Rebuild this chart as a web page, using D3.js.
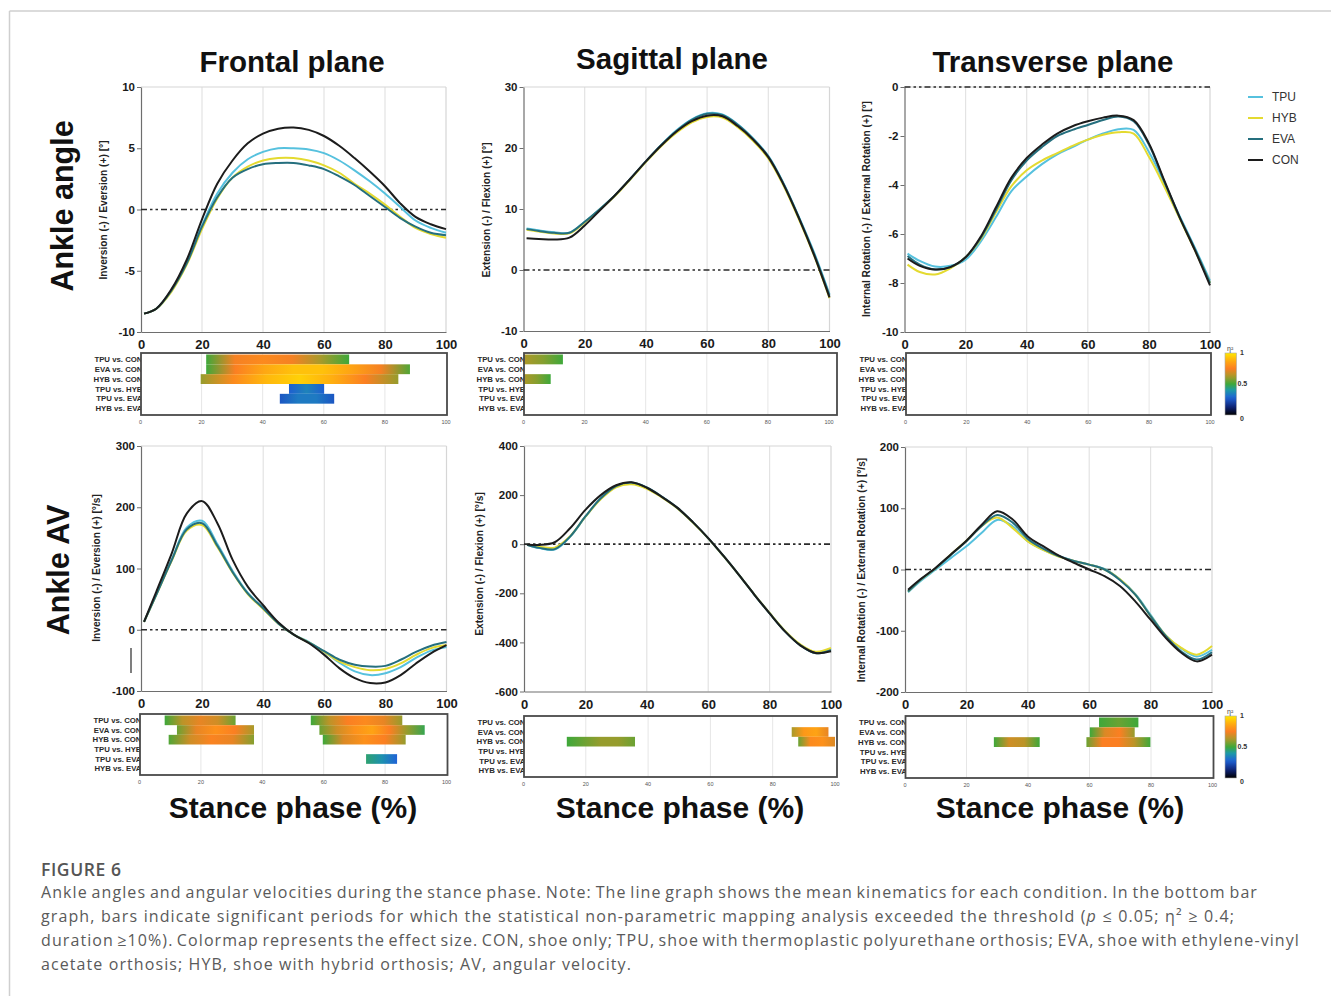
<!DOCTYPE html>
<html>
<head>
<meta charset="utf-8">
<script src="https://cdn.jsdelivr.net/npm/d3@7"></script>
<style>
  body { margin: 0; background: #fff; }
  svg { display: block; font-family: "Liberation Sans", Arial, sans-serif; }
</style>
</head>
<body>
<svg id="fig" width="1331" height="996"></svg>
<script>
"use strict";

// ---- data ----
const stance = [1, 5, 10, 15, 20, 25, 30, 35, 40, 45, 50, 55, 60, 65, 70, 75, 80, 85, 90, 95, 100];
const stanceTicks = [0, 20, 40, 60, 80, 100];
const conditions = ["TPU", "HYB", "EVA", "CON"];
const conditionColors = ["#56c1de", "#e4da30", "#256f7e", "#1c1c1c"];
const comparisons = ["TPU vs. CON", "EVA vs. CON", "HYB vs. CON", "TPU vs. HYB", "TPU vs. EVA", "HYB vs. EVA"];

// frontal plane angle [°]
const frontalAngleTPU = [-8.5, -8.1, -6.6, -4.3, -1.3, 1.3, 3.0, 4.1, 4.7, 5.0, 5.0, 4.9, 4.6, 4.0, 3.2, 2.3, 1.3, 0.2, -0.9, -1.5, -1.9];
const frontalAngleHYB = [-8.5, -8.1, -6.7, -4.5, -1.6, 0.9, 2.6, 3.5, 4.0, 4.2, 4.2, 4.0, 3.6, 3.0, 2.1, 1.3, 0.4, -0.6, -1.5, -2.0, -2.3];
const frontalAngleEVA = [-8.5, -8.1, -6.6, -4.4, -1.4, 1.0, 2.6, 3.3, 3.7, 3.8, 3.8, 3.6, 3.3, 2.7, 2.0, 1.1, 0.2, -0.7, -1.4, -1.9, -2.1];
const frontalAngleCON = [-8.5, -8.1, -6.5, -4.1, -0.8, 2.1, 4.0, 5.4, 6.2, 6.6, 6.7, 6.5, 6.0, 5.2, 4.2, 3.1, 1.9, 0.5, -0.6, -1.2, -1.6];

// sagittal plane angle [°]
const sagittalAngleTPU = [6.8, 6.5, 6.2, 6.1, 7.9, 10.0, 12.3, 15.0, 17.8, 20.5, 22.9, 24.7, 25.7, 25.5, 23.9, 21.6, 18.7, 14.2, 8.7, 2.8, -4.0];
const sagittalAngleHYB = [6.6, 6.3, 6.0, 6.0, 7.8, 9.9, 12.2, 14.9, 17.7, 20.3, 22.5, 24.2, 25.1, 25.0, 23.4, 21.2, 18.3, 13.8, 8.3, 2.3, -4.6];
const sagittalAngleEVA = [6.7, 6.4, 6.1, 6.1, 7.9, 10.0, 12.3, 15.0, 17.8, 20.5, 22.8, 24.6, 25.6, 25.4, 23.8, 21.5, 18.6, 14.1, 8.6, 2.6, -4.2];
const sagittalAngleCON = [5.2, 5.1, 5.0, 5.3, 7.3, 9.8, 12.3, 15.0, 17.8, 20.4, 22.7, 24.4, 25.3, 25.2, 23.6, 21.4, 18.5, 14.0, 8.5, 2.4, -4.5];

// transverse plane angle [°]
const transverseAngleTPU = [-6.8, -7.1, -7.33, -7.3, -7.05, -6.3, -5.3, -4.25, -3.65, -3.15, -2.75, -2.45, -2.15, -1.9, -1.72, -1.75, -2.65, -3.9, -5.25, -6.55, -7.9];
const transverseAngleHYB = [-7.25, -7.55, -7.65, -7.4, -6.95, -6.2, -5.1, -4.05, -3.4, -3.0, -2.7, -2.4, -2.15, -1.95, -1.85, -1.9, -2.85, -4.05, -5.35, -6.65, -8.0];
const transverseAngleEVA = [-6.9, -7.25, -7.45, -7.35, -6.95, -6.15, -5.0, -3.8, -3.0, -2.45, -2.0, -1.75, -1.55, -1.35, -1.2, -1.4, -2.35, -3.85, -5.3, -6.6, -8.0];
const transverseAngleCON = [-7.0, -7.3, -7.45, -7.35, -6.95, -6.1, -4.9, -3.7, -2.9, -2.35, -1.9, -1.6, -1.4, -1.25, -1.17, -1.35, -2.3, -3.8, -5.3, -6.65, -8.1];

// frontal plane angular velocity [°/s]
const frontalAvTPU = [13, 58, 114, 167, 178, 140, 96, 60, 35, 11, -8, -20, -36, -54, -68, -74, -71, -61, -46, -34, -28];
const frontalAvHYB = [13, 57, 112, 162, 171, 135, 93, 58, 34, 10, -8, -21, -36, -52, -61, -66, -64, -55, -41, -30, -25];
const frontalAvEVA = [13, 57, 113, 164, 174, 137, 94, 59, 35, 10, -8, -21, -35, -49, -57, -60, -59, -49, -36, -26, -20];
const frontalAvCON = [13, 62, 124, 190, 210, 174, 114, 70, 40, 12, -8, -22, -41, -63, -79, -87, -86, -74, -55, -38, -25];

// sagittal plane angular velocity [°/s]
const sagittalAvTPU = [-2, -16, -22, 30, 112, 186, 236, 250, 230, 192, 147, 89, 24, -49, -125, -205, -281, -354, -410, -442, -425];
const sagittalAvHYB = [-2, -10, -14, 32, 112, 183, 232, 244, 226, 190, 146, 88, 24, -49, -125, -204, -280, -352, -408, -438, -423];
const sagittalAvEVA = [-2, -15, -20, 31, 113, 187, 237, 251, 231, 193, 148, 90, 25, -48, -125, -205, -282, -355, -412, -444, -432];
const sagittalAvCON = [-1, -3, 8, 65, 140, 200, 240, 252, 230, 192, 148, 90, 25, -48, -125, -205, -282, -355, -412, -443, -436];

// transverse plane angular velocity [°/s]
const transverseAvTPU = [-37, -19, 0, 19, 38, 60, 81, 71, 46, 32, 22, 14, 8, 1, -16, -40, -74, -108, -129, -142, -131];
const transverseAvHYB = [-36, -17, 2, 25, 47, 71, 85, 68, 46, 32, 21, 14, 8, 0, -16, -41, -76, -108, -128, -139, -125];
const transverseAvEVA = [-36, -17, 2, 24, 46, 71, 89, 77, 50, 34, 22, 14, 8, 0, -17, -41, -76, -109, -134, -147, -135];
const transverseAvCON = [-33, -16, 3, 25, 47, 73, 95, 82, 54, 38, 23, 11, 0, -11, -27, -52, -82, -112, -136, -150, -139];

// SPM significant periods: comparison row, start/end (% stance), effect size η² along the bar
const frontalAngleSpm = [
  { row: 0, from: 21.5, to: 68.3, eta: [0.5, 0.74, 0.78, 0.74, 0.62, 0.5] },
  { row: 1, from: 21.5, to: 88.2, eta: [0.5, 0.75, 0.86, 0.92, 0.92, 0.85, 0.74, 0.52] },
  { row: 2, from: 19.7, to: 84.4, eta: [0.6, 0.78, 0.9, 0.95, 0.88, 0.75, 0.6] },
  { row: 3, from: 48.6, to: 60.1, eta: [0.27, 0.35, 0.27] },
  { row: 4, from: 45.6, to: 63.4, eta: [0.25, 0.33, 0.33, 0.25] },
];
const sagittalAngleSpm = [
  { row: 0, from: 0, to: 12.9, eta: [0.63, 0.58, 0.5] },
  { row: 2, from: 0, to: 8.9, eta: [0.63, 0.58, 0.5] },
];
const transverseAngleSpm = [];
const frontalAvSpm = [
  { row: 0, from: 8.2, to: 31.3, eta: [0.5, 0.65, 0.72, 0.68, 0.55] },
  { row: 0, from: 55.8, to: 85.6, eta: [0.5, 0.65, 0.75, 0.78, 0.72, 0.6] },
  { row: 1, from: 12.2, to: 37.3, eta: [0.55, 0.72, 0.8, 0.75, 0.62] },
  { row: 1, from: 58.6, to: 92.9, eta: [0.55, 0.68, 0.8, 0.85, 0.75, 0.6, 0.48] },
  { row: 2, from: 9.5, to: 37.3, eta: [0.52, 0.68, 0.76, 0.72, 0.58] },
  { row: 2, from: 59.7, to: 86.7, eta: [0.5, 0.7, 0.8, 0.75, 0.6] },
  { row: 4, from: 73.8, to: 83.9, eta: [0.45, 0.38, 0.28] },
];
const sagittalAvSpm = [
  { row: 1, from: 86.1, to: 97.9, eta: [0.62, 0.82, 0.85, 0.72] },
  { row: 2, from: 13.9, to: 35.8, eta: [0.5, 0.55, 0.6, 0.6, 0.55] },
  { row: 2, from: 88.2, to: 100, eta: [0.55, 0.78, 0.8, 0.7] },
];
const transverseAvSpm = [
  { row: 0, from: 63.1, to: 75.9, eta: [0.5, 0.55, 0.5] },
  { row: 1, from: 60.1, to: 74.7, eta: [0.5, 0.7, 0.75, 0.6] },
  { row: 2, from: 28.9, to: 43.8, eta: [0.5, 0.68, 0.65, 0.5] },
  { row: 2, from: 59, to: 79.8, eta: [0.55, 0.75, 0.75, 0.65, 0.5] },
];

const colorbarTicks = [0, 0.5, 1];

// ---- colormap (effect size) ----
const cmap = d3.scaleLinear()
  .domain([0, 0.12, 0.28, 0.4, 0.5, 0.62, 0.75, 0.88, 1])
  .range(["#000000", "#0c1f6e", "#1f63d6", "#1d9aa6", "#3ea83a", "#a89a2a", "#fb7f22", "#ffae10", "#ffe800"]);

const svg = d3.select("#fig");
const defs = svg.append("defs");
let gradCount = 0;

// page frame
svg.append("line").attr("x1", 9.5).attr("x2", 1331).attr("y1", 11).attr("y2", 11)
  .attr("stroke", "#cfcfcf").attr("stroke-width", 1.5);
svg.append("line").attr("x1", 9.5).attr("x2", 9.5).attr("y1", 11).attr("y2", 996)
  .attr("stroke", "#cfcfcf").attr("stroke-width", 1.5);

// ---- panels ----
const panels = [
  { series: [frontalAngleTPU, frontalAngleHYB, frontalAngleEVA, frontalAngleCON], spm: frontalAngleSpm,
    yDomain: [-10, 10], yTicks: [-10, -5, 0, 5, 10], yTitle: "Inversion (-) / Eversion (+) [°]",
    plotX: [141, 446], plotY: [87, 332], hmX: [140.5, 446], hmBox: 1, hmY: [353, 415], titleX: 107, titleY: 210 },
  { series: [sagittalAngleTPU, sagittalAngleHYB, sagittalAngleEVA, sagittalAngleCON], spm: sagittalAngleSpm,
    yDomain: [-10, 30], yTicks: [-10, 0, 10, 20, 30], yTitle: "Extension (-) / Flexion (+) [°]",
    plotX: [523.5, 829.5], plotY: [87, 331], hmX: [523.5, 829], hmBox: 8, hmY: [353, 415], titleX: 490, titleY: 210 },
  { series: [transverseAngleTPU, transverseAngleHYB, transverseAngleEVA, transverseAngleCON], spm: transverseAngleSpm,
    yDomain: [-10, 0], yTicks: [-10, -8, -6, -4, -2, 0], yTitle: "Internal Rotation (-) / External Rotation (+) [°]",
    plotX: [904.5, 1210], plotY: [87, 332], hmX: [905.5, 1210], hmBox: 1, hmY: [353, 415], titleX: 870, titleY: 209, colorbar: true },
  { series: [frontalAvTPU, frontalAvHYB, frontalAvEVA, frontalAvCON], spm: frontalAvSpm,
    yDomain: [-100, 300], yTicks: [-100, 0, 100, 200, 300], yTitle: "Inversion (-) / Eversion (+) [°/s]",
    plotX: [141, 446.5], plotY: [446, 691], hmX: [139.5, 446.5], hmBox: 1, hmY: [714, 775], titleX: 100, titleY: 568 },
  { series: [sagittalAvTPU, sagittalAvHYB, sagittalAvEVA, sagittalAvCON], spm: sagittalAvSpm,
    yDomain: [-600, 400], yTicks: [-600, -400, -200, 0, 200, 400], yTitle: "Extension (-) / Flexion (+) [°/s]",
    plotX: [524, 831], plotY: [446, 691.5], hmX: [523.5, 835], hmBox: 2, hmY: [716, 777], titleX: 483, titleY: 564 },
  { series: [transverseAvTPU, transverseAvHYB, transverseAvEVA, transverseAvCON], spm: transverseAvSpm,
    yDomain: [-200, 200], yTicks: [-200, -100, 0, 100, 200], yTitle: "Internal Rotation (-) / External Rotation (+) [°/s]",
    plotX: [905, 1212], plotY: [447, 692], hmX: [905, 1212.5], hmBox: 1, hmY: [716, 778], titleX: 865, titleY: 570, colorbar: true },
];

panels.forEach(drawPanel);

function drawPanel(p) {
  const g = svg.append("g");
  const x = d3.scaleLinear().domain([0, 100]).range(p.plotX);
  const y = d3.scaleLinear().domain(p.yDomain).range([p.plotY[1], p.plotY[0]]);

  // grid + light frame
  g.selectAll(".grid").data(stanceTicks.slice(1, -1)).join("line")
    .attr("x1", (d) => x(d)).attr("x2", (d) => x(d))
    .attr("y1", p.plotY[0]).attr("y2", p.plotY[1])
    .attr("stroke", "#e3e3e3").attr("stroke-width", 1.2);
  g.append("line").attr("x1", x(0)).attr("x2", x(100)).attr("y1", p.plotY[0]).attr("y2", p.plotY[0])
    .attr("stroke", "#d6d6d6").attr("stroke-width", 1.2);
  g.append("line").attr("x1", x(100)).attr("x2", x(100)).attr("y1", p.plotY[0]).attr("y2", p.plotY[1])
    .attr("stroke", "#d6d6d6").attr("stroke-width", 1.2);

  // axes (plain hyphen for negatives, as in the source figure)
  const fmt = (d) => String(d);
  const yAxisG = g.append("g").attr("transform", `translate(${p.plotX[0]},0)`)
    .call(d3.axisLeft(y).tickValues(p.yTicks).tickFormat(fmt).tickSize(4).tickSizeOuter(0).tickPadding(2));
  const xAxisG = g.append("g").attr("transform", `translate(0,${p.plotY[1]})`)
    .call(d3.axisBottom(x).tickValues(stanceTicks).tickFormat(fmt).tickSize(0).tickSizeOuter(0).tickPadding(8));
  [yAxisG, xAxisG].forEach((a) => {
    a.attr("font-family", null);
    a.select(".domain").attr("stroke", "#6e6e6e").attr("stroke-width", 1.2);
    a.selectAll(".tick line").attr("stroke", "#6e6e6e");
    a.selectAll("text").attr("fill", "#1a1a1a").attr("font-weight", "bold");
  });
  yAxisG.selectAll("text").attr("font-size", 11.5);
  xAxisG.selectAll("text").attr("font-size", 13);

  // zero reference
  g.append("line").attr("x1", x(0)).attr("x2", x(100)).attr("y1", y(0)).attr("y2", y(0))
    .attr("stroke", "#2a2a2a").attr("stroke-width", 1.7)
    .attr("stroke-dasharray", "6,3,2.5,3,2.5,3");

  // curves
  const line = d3.line()
    .x((d, i) => x(stance[i]))
    .y((d) => y(d))
    .curve(d3.curveCatmullRom.alpha(0.5));
  p.series.forEach((s, i) => {
    g.append("path").attr("d", line(s)).attr("fill", "none")
      .attr("stroke", conditionColors[i]).attr("stroke-width", 2);
  });

  // axis title
  g.append("text").attr("transform", `translate(${p.titleX},${p.titleY}) rotate(-90)`)
    .attr("text-anchor", "middle").attr("font-size", 10.2).attr("font-weight", "bold")
    .attr("fill", "#222").text(p.yTitle);

  drawHeatmap(p);
}

function drawHeatmap(p) {
  const g = svg.append("g");
  const hx = d3.scaleLinear().domain([0, 100]).range(p.hmX);
  const [top, bottom] = p.hmY;
  const band = d3.scaleBand().domain(d3.range(comparisons.length)).range([top + 1.5, bottom - 1.5]);
  const boxLeft = hx(0) + 0.5;
  const boxRight = hx(100) + p.hmBox;

  // row labels (partly hidden by the box edge)
  g.selectAll(".rowlab").data(comparisons).join("text")
    .attr("x", boxLeft + 1.5).attr("y", (d, i) => band(i) + band.bandwidth() / 2)
    .attr("dy", "0.35em").attr("text-anchor", "end")
    .attr("font-size", 7.8).attr("font-weight", "bold").attr("fill", "#2a2a2a")
    .text((d) => d);

  g.append("rect").attr("x", boxLeft).attr("y", top).attr("width", boxRight - boxLeft)
    .attr("height", bottom - top).attr("fill", "#fff");

  g.selectAll(".hgrid").data(stanceTicks.slice(1, -1)).join("line")
    .attr("x1", (d) => hx(d)).attr("x2", (d) => hx(d)).attr("y1", top).attr("y2", bottom)
    .attr("stroke", "#e6e6e6").attr("stroke-width", 1);

  p.spm.forEach((b) => {
    const id = `spm${gradCount++}`;
    const grad = defs.append("linearGradient").attr("id", id)
      .attr("x1", 0).attr("x2", 1).attr("y1", 0).attr("y2", 0);
    b.eta.forEach((e, i) => {
      grad.append("stop").attr("offset", i / (b.eta.length - 1)).attr("stop-color", cmap(e));
    });
    g.append("rect").attr("x", hx(b.from)).attr("y", band(b.row))
      .attr("width", hx(b.to) - hx(b.from)).attr("height", band.bandwidth())
      .attr("fill", `url(#${id})`);
  });

  g.append("rect").attr("x", boxLeft).attr("y", top).attr("width", boxRight - boxLeft)
    .attr("height", bottom - top).attr("fill", "none")
    .attr("stroke", "#4a4a4a").attr("stroke-width", 1.8);

  g.selectAll(".htick").data(stanceTicks).join("text")
    .attr("x", (d) => hx(d)).attr("y", bottom + 9)
    .attr("text-anchor", "middle").attr("font-size", 5.5).attr("fill", "#555")
    .text((d) => d);

  if (p.colorbar) {
    const id = `cbar${gradCount++}`;
    const grad = defs.append("linearGradient").attr("id", id)
      .attr("x1", 0).attr("x2", 0).attr("y1", 1).attr("y2", 0);
    d3.range(0, 1.0001, 0.05).forEach((t) => {
      grad.append("stop").attr("offset", t).attr("stop-color", cmap(t));
    });
    const cy = d3.scaleLinear().domain([0, 1]).range([bottom, top]);
    g.append("rect").attr("x", 1225).attr("y", top).attr("width", 11.5).attr("height", bottom - top)
      .attr("fill", `url(#${id})`).attr("stroke", "#aaa").attr("stroke-width", 0.6);
    g.selectAll(".cbt").data(colorbarTicks).join("text")
      .attr("x", (d) => (d === 0.5 ? 1237.5 : 1240)).attr("y", (d) => cy(d))
      .attr("dy", (d) => (d === 0 ? "0.9em" : d === 1 ? "0.3em" : "0.35em"))
      .attr("font-size", 7).attr("font-weight", "bold").attr("fill", "#333")
      .text((d) => d);
    g.append("text").attr("x", 1227).attr("y", top - 2).attr("font-size", 7)
      .attr("fill", "#444").text("η²");
  }
}

// stray mark in the lower-left panel
svg.append("line").attr("x1", 131).attr("x2", 131).attr("y1", 648).attr("y2", 673)
  .attr("stroke", "#3a3a3a").attr("stroke-width", 1.3);

// ---- headings ----
const colTitles = ["Frontal plane", "Sagittal plane", "Transverse plane"];
const colTitleX = [292, 672, 1053];
const colTitleY = [72, 69, 72];
svg.selectAll(".coltitle").data(colTitles).join("text")
  .attr("x", (d, i) => colTitleX[i]).attr("y", (d, i) => colTitleY[i])
  .attr("text-anchor", "middle").attr("font-size", 29.5).attr("font-weight", "bold")
  .attr("fill", "#111").text((d) => d);

const rowTitles = ["Ankle angle", "Ankle AV"];
const rowTitlePos = [[73, 206], [69, 570]];
svg.selectAll(".rowtitle").data(rowTitles).join("text")
  .attr("transform", (d, i) => `translate(${rowTitlePos[i][0]},${rowTitlePos[i][1]}) rotate(-90)`)
  .attr("text-anchor", "middle").attr("font-size", 30.5).attr("font-weight", "bold")
  .attr("fill", "#111").text((d) => d);

const xTitleX = [293, 680, 1060];
svg.selectAll(".xtitle").data(xTitleX).join("text")
  .attr("x", (d) => d).attr("y", 818)
  .attr("text-anchor", "middle").attr("font-size", 30).attr("font-weight", "bold")
  .attr("fill", "#111").text("Stance phase (%)");

// ---- legend ----
const legend = svg.append("g");
conditions.forEach((c, i) => {
  const ly = 97 + i * 21;
  legend.append("line").attr("x1", 1248).attr("x2", 1263).attr("y1", ly).attr("y2", ly)
    .attr("stroke", conditionColors[i]).attr("stroke-width", 2);
  legend.append("text").attr("x", 1272).attr("y", ly).attr("dy", "0.35em")
    .attr("font-size", 12).attr("fill", "#333").text(c);
});

// ---- caption ----
const cap = svg.append("g").attr("font-family", "'Open Sans', 'Noto Sans', sans-serif").attr("fill", "#5a5a5a");
cap.append("text").attr("x", 41).attr("y", 876).attr("font-size", 17.5).attr("font-weight", 600)
  .attr("letter-spacing", 0.6).attr("fill", "#555").text("FIGURE 6");

const captionLines = [
  ["Ankle angles and angular velocities during the stance phase. Note: The line graph shows the mean kinematics for each condition. In the bottom bar"],
  ["graph, bars indicate significant periods for which the statistical non-parametric mapping analysis exceeded the threshold (", ["p"], " ≤ 0.05; η² ≥ 0.4;"],
  ["duration ≥10%). Colormap represents the effect size. CON, shoe only; TPU, shoe with thermoplastic polyurethane orthosis; EVA, shoe with ethylene-vinyl"],
  ["acetate orthosis; HYB, shoe with hybrid orthosis; AV, angular velocity."],
];
const captionRight = [1258, 1235, 1300, 632];
const capSize = 16;

// letter spacing so the last (unjustified) line ends where it does in the figure
const probe = cap.append("text").attr("font-size", capSize).text(captionLines[3][0]);
const capTrack = (captionRight[3] - 41 - probe.node().getComputedTextLength()) / captionLines[3][0].length;
probe.remove();

captionLines.forEach((parts, i) => {
  const t = cap.append("text").attr("x", 41).attr("y", 898 + i * 24)
    .attr("font-size", capSize).attr("letter-spacing", capTrack);
  parts.forEach((part) => {
    const span = t.append("tspan").text(Array.isArray(part) ? part[0] : part);
    if (Array.isArray(part)) span.attr("font-style", "italic");
  });
  if (i < captionLines.length - 1) {
    const natural = t.node().getComputedTextLength();
    const spaces = t.text().split(" ").length - 1;
    t.attr("word-spacing", (captionRight[i] - 41 - natural) / spaces);
  }
});
</script>
</body>
</html>
